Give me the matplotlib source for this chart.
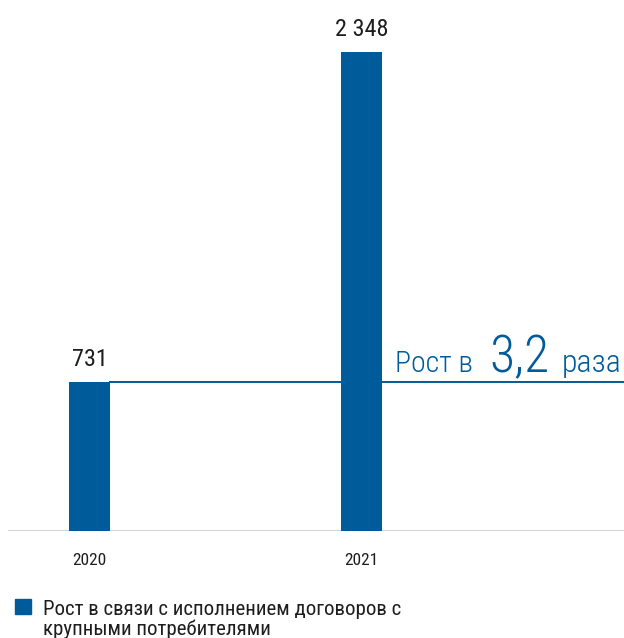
import matplotlib
matplotlib.use("Agg")
import matplotlib.pyplot as plt
from matplotlib import font_manager as fm

years = ["2020", "2021"]
values = [731, 2348]
value_labels = ["731", "2 348"]
legend_label = "Рост в связи с исполнением договоров с\nкрупными потребителями"
growth_prefix = "Рост в"
growth_factor = "3,2"
growth_suffix = "раза"

entries = fm.fontManager.ttflist
names = {f.name for f in entries}
stretch = "normal"
fam = None
for cand in ["Roboto Condensed", "Liberation Sans Narrow", "DejaVu Sans Condensed", "Open Sans Condensed"]:
    if cand in names:
        fam = cand
        break
if fam is None:
    if any(f.name == "DejaVu Sans" and str(f.stretch) in ("condensed", "semi-condensed") for f in entries):
        fam = "DejaVu Sans"
        stretch = "condensed"
    else:
        fam = "Roboto"
plt.rcParams['font.family'] = [fam, "DejaVu Sans"]
plt.rcParams['font.stretch'] = stretch
has_light = any(f.name == fam and f.weight in (300, "light") for f in entries)
g_weight = "light" if has_light else "normal"

BLUE = "#005b9a"
TXT = "#1e1e1e"
W, H = 624, 638
fig = plt.figure(figsize=(W/100, H/100), dpi=100)
renderer = fig.canvas.get_renderer()
base_px = 531
ax = fig.add_axes([8/W, (H-base_px)/H, 616/W, base_px/H])
scale = (531-52)/2348
ax.set_ylim(0, base_px/scale)
ax.set_xlim(-81.5/272, (616-81.5)/272)
x = list(range(len(years)))
ax.bar(x, values, width=41/272, color=BLUE, zorder=2)
for xi, v, lab in zip(x, values, value_labels):
    ax.annotate(lab, (xi, v), xytext=(0, 11.5), textcoords="offset points",
                ha="center", va="baseline", fontsize=17.5, color=TXT)
ax.axhline(values[0], xmin=(81.5+20.5)/616, xmax=1, color=BLUE, lw=1.4, zorder=3)
for s in ax.spines.values():
    s.set_visible(False)
ax.axhline(0, color="#cccccc", lw=1.2, zorder=1)
ax.set_yticks([])
ax.set_xticks(x)
ax.set_xticklabels(years, fontsize=12.5, color=TXT)
ax.tick_params(axis="x", length=0, pad=15.5)

# growth annotation: each piece sized to the span it takes in the reference
base_y = (H-372)/H
def fitted(text, x0, x1, fs_max, ha):
    t = fig.text((x0 if ha == "left" else x1)/W, base_y, text, fontsize=fs_max,
                 color=BLUE, ha=ha, va="baseline", fontweight=g_weight)
    w = t.get_window_extent(renderer).width
    if w > (x1 - x0):
        t.set_fontsize(fs_max*(x1 - x0)/w)
    return t
fitted(growth_prefix, 395, 473, 27, "left")
fitted(growth_factor, 489, 549, 42, "left")
fitted(growth_suffix, 561, 621, 27, "right")

# legend
fig.patches.append(plt.Rectangle((15/W, (H-614)/H), 16/W, 15/H, transform=fig.transFigure,
                                 color=BLUE, figure=fig))
fig.text(43/W, (H-615)/H, legend_label.split("\n")[0], fontsize=15, color=TXT,
         ha="left", va="baseline")
fig.text(43/W, (H-635)/H, legend_label.split("\n")[1], fontsize=15, color=TXT,
         ha="left", va="baseline")

fig.savefig("out.png", dpi=100)
